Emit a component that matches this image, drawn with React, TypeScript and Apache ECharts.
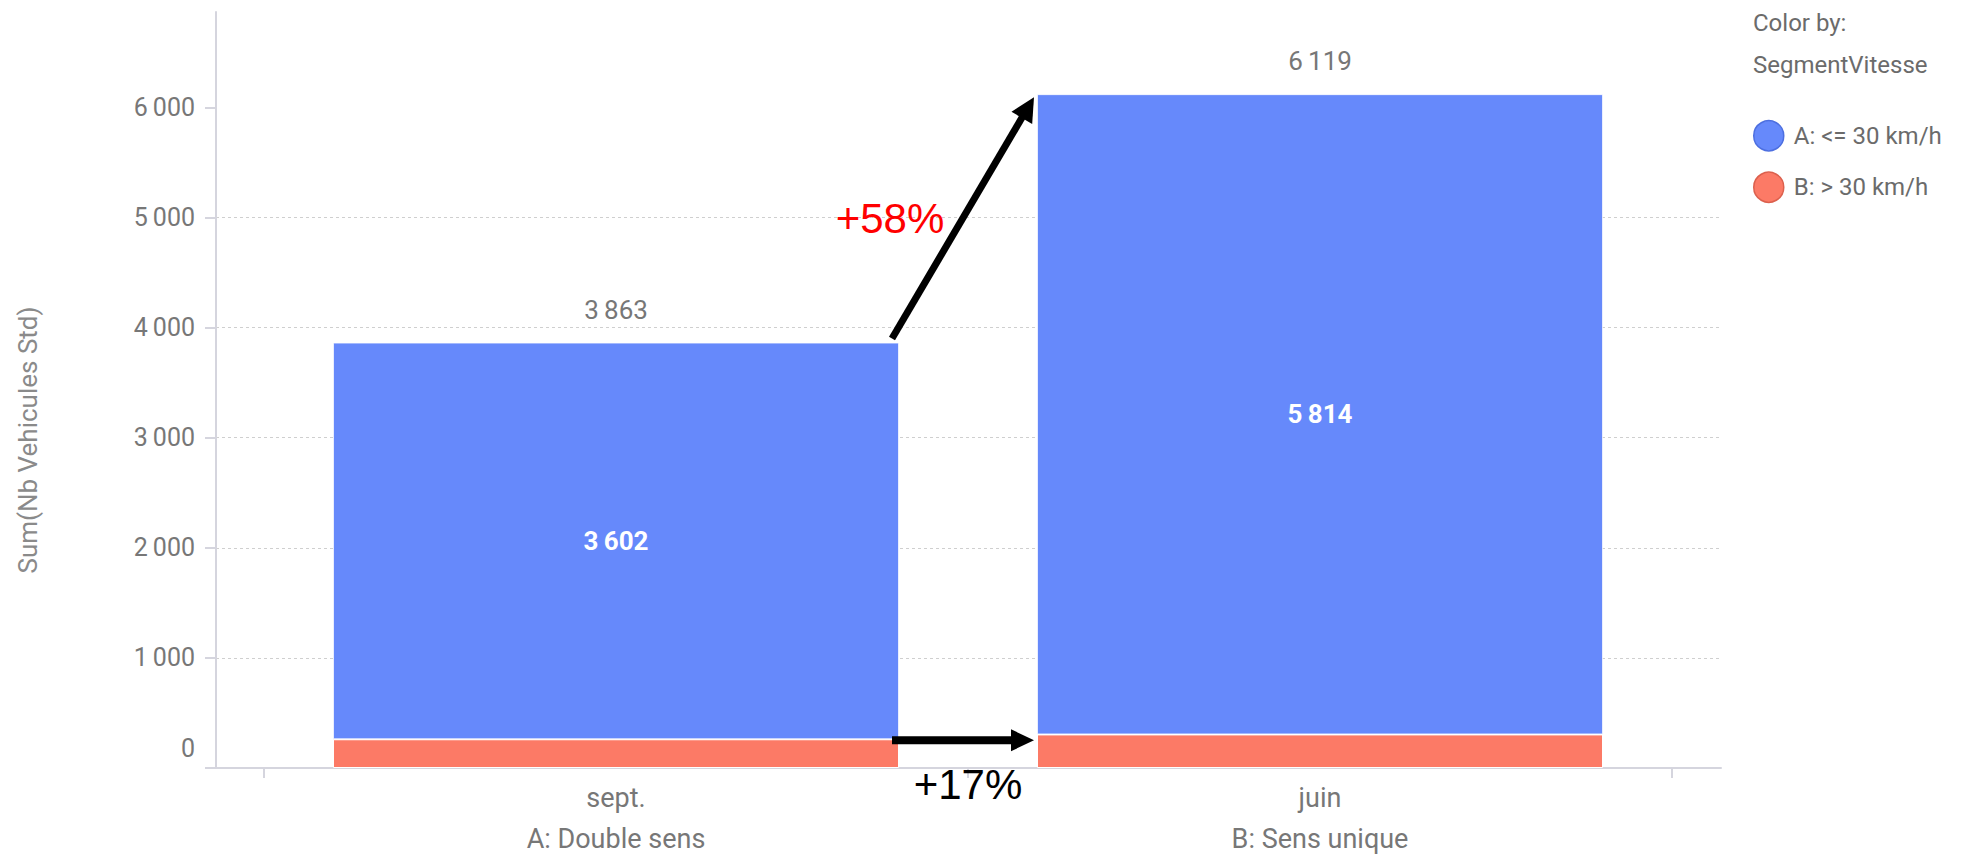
import React, { useEffect, useRef } from 'react';
import * as echarts from 'echarts';

const categories = ['sept.', 'juin'];
const groupLabels = ['A: Double sens', 'B: Sens unique'];
const seriesNames = ['A: <= 30 km/h', 'B: > 30 km/h'];
const slowValues = [3602, 5814];
const fastValues = [261, 305];
const totals = [3863, 6119];
const yTicks = [0, 1000, 2000, 3000, 4000, 5000, 6000];
const changeLabels = ['+58%', '+17%'];
const colorByTitle = ['Color by:', 'SegmentVitesse'];
const yAxisName = 'Sum(Nb Vehicules Std)';

const Y_MAX = 6865;
const BAR_W = 566;
const FONT = 'Roboto, "Noto Sans", sans-serif';
const ARIAL = '"Liberation Sans", Arial, sans-serif';
const BLUE = '#6689FB';
const RED = '#FC7A66';
const AXIS_COLOR = '#d5d5de';
const TEXT_GRAY = '#777777';

function fmt(v: number): string {
  const s = String(v);
  return s.length > 3 ? s.slice(0, s.length - 3) + '\u2009' + s.slice(-3) : s;
}

function arrow(x1: number, y1: number, x2: number, y2: number, w: number, headLen: number, headHalf: number) {
  const dx = x2 - x1;
  const dy = y2 - y1;
  const len = Math.hypot(dx, dy);
  const ux = dx / len;
  const uy = dy / len;
  const nx = -uy;
  const ny = ux;
  const bx = x2 - ux * headLen;
  const by = y2 - uy * headLen;
  return [
    {
      type: 'line',
      shape: { x1, y1, x2: bx + ux, y2: by + uy },
      style: { stroke: '#000', lineWidth: w },
      z: 100,
    },
    {
      type: 'polygon',
      shape: {
        points: [
          [x2, y2],
          [bx + nx * headHalf, by + ny * headHalf],
          [bx - nx * headHalf, by - ny * headHalf],
        ],
      },
      style: { fill: '#000' },
      z: 100,
    },
  ];
}

export default function App() {
  const ref = useRef<HTMLDivElement>(null);

  useEffect(() => {
    if (!ref.current) return;
    const chart = echarts.init(ref.current, null, { renderer: 'svg' });

    const option: any = {
      animation: false,
      backgroundColor: '#ffffff',
      grid: [
        { left: 264, right: 298, top: 12, bottom: 88 },
        { left: 216, right: 249, top: 12, bottom: 88 },
      ],
      xAxis: [
        {
          type: 'category',
          gridIndex: 0,
          data: categories,
          axisLine: { show: false },
          axisTick: { show: true, length: 10, lineStyle: { color: AXIS_COLOR, width: 2 } },
          axisLabel: {
            margin: 9,
            formatter: (v: string, i: number) => `{a|${v}}\n{b|${groupLabels[i]}}`,
            rich: {
              a: { fontSize: 27, lineHeight: 41, color: TEXT_GRAY, fontFamily: FONT },
              b: { fontSize: 27, lineHeight: 41, color: TEXT_GRAY, fontFamily: FONT },
            },
          },
          splitLine: { show: false },
        },
        {
          type: 'category',
          gridIndex: 1,
          data: [''],
          axisLine: { show: true, lineStyle: { color: AXIS_COLOR, width: 2 } },
          axisTick: { show: false },
          axisLabel: { show: false },
          splitLine: { show: false },
        },
      ],
      yAxis: [
        { type: 'value', gridIndex: 0, min: 0, max: Y_MAX, show: false, splitLine: { show: false } },
        {
          type: 'value',
          gridIndex: 1,
          min: 0,
          max: Y_MAX,
          interval: 1000,
          axisLine: { show: true, lineStyle: { color: AXIS_COLOR, width: 2 } },
          axisTick: { show: true, length: 11, customValues: yTicks, lineStyle: { color: AXIS_COLOR, width: 2 } },
          axisLabel: {
            customValues: yTicks,
            margin: 21,
            fontSize: 25,
            color: TEXT_GRAY,
            fontFamily: FONT,
            formatter: (v: number) => (v === 0 ? '{z|0}' : fmt(v)),
            rich: {
              z: { fontSize: 25, color: TEXT_GRAY, fontFamily: FONT, padding: [0, 0, 40, 0] },
            },
          },
          splitLine: {
            show: true,
            showMaxLine: false,
            showMinLine: false,
            lineStyle: { type: [3, 3], color: '#cfcfcf', width: 1 },
          },
        },
      ],
      legend: {
        orient: 'vertical',
        left: 1753,
        top: 120,
        itemWidth: 30,
        itemHeight: 30,
        itemGap: 20,
        padding: 0,
        icon: 'circle',
        selectedMode: false,
        data: [
          { name: seriesNames[0], itemStyle: { color: BLUE, borderColor: '#4d6fe0', borderWidth: 1.5 } },
          { name: seriesNames[1], itemStyle: { color: RED, borderColor: '#dc604d', borderWidth: 1.5 } },
        ],
        textStyle: { fontSize: 24, color: '#6b6b6b', fontFamily: FONT, padding: [0, 0, 0, 5] },
      },
      series: [
        {
          name: seriesNames[1],
          type: 'bar',
          stack: 't',
          xAxisIndex: 0,
          yAxisIndex: 0,
          data: fastValues,
          barWidth: BAR_W,
          itemStyle: { color: RED, borderColor: '#ffffff', borderWidth: 1 },
          label: { show: false },
        },
        {
          name: seriesNames[0],
          type: 'bar',
          stack: 't',
          xAxisIndex: 0,
          yAxisIndex: 0,
          data: slowValues,
          barWidth: BAR_W,
          itemStyle: { color: BLUE, borderColor: 'rgba(255,255,255,0.7)', borderWidth: 1 },
          label: {
            show: true,
            position: 'inside',
            color: '#ffffff',
            fontSize: 26,
            fontWeight: 'bold',
            fontFamily: FONT,
            formatter: (p: any) => fmt(p.value),
          },
        },
        {
          name: 'Total',
          type: 'bar',
          stack: 't',
          xAxisIndex: 0,
          yAxisIndex: 0,
          data: totals.map(() => 0),
          barWidth: BAR_W,
          itemStyle: { color: 'transparent' },
          label: {
            show: true,
            position: 'top',
            distance: 18,
            color: TEXT_GRAY,
            fontSize: 26,
            fontFamily: FONT,
            backgroundColor: '#ffffff',
            padding: [2, 10],
            formatter: (p: any) => fmt(totals[p.dataIndex]),
          },
        },
      ],
    };

    chart.setOption(option);

    const px = (cat: string, val: number) => chart.convertToPixel({ gridIndex: 0 } as any, [cat, val]) as number[];
    const half = BAR_W / 2;
    const [xL, yTopL] = px(categories[0], totals[0]);
    const [xR, yTopR] = px(categories[1], totals[1]);
    const yRedL = px(categories[0], fastValues[0])[1];
    const yAxis0 = px(categories[0], 0)[1];
    const gapL = xL + half;
    const gapR = xR - half;

    const a1 = { x1: gapL - 7, y1: yTopL - 4, x2: gapR - 3, y2: yTopR + 3 };
    const a2 = { x1: gapL - 7, y1: yRedL + 1, x2: gapR - 3, y2: yRedL + 1 };

    const graphic: any[] = [
      {
        type: 'text',
        x: 1753,
        y: 23,
        style: { text: colorByTitle[0], fill: '#6b6b6b', fontSize: 24, fontFamily: FONT, align: 'left', verticalAlign: 'middle' },
      },
      {
        type: 'text',
        x: 1753,
        y: 65,
        style: { text: colorByTitle[1], fill: '#6b6b6b', fontSize: 24, fontFamily: FONT, align: 'left', verticalAlign: 'middle' },
      },
      {
        type: 'text',
        x: 28,
        y: 440,
        rotation: Math.PI / 2,
        style: { text: yAxisName, fill: '#8a8a8a', fontSize: 26, fontFamily: FONT, align: 'center', verticalAlign: 'middle' },
      },
      ...arrow(a1.x1, a1.y1, a1.x2, a1.y2, 7, 24, 12),
      ...arrow(a2.x1, a2.y1, a2.x2, a2.y2, 8, 23, 11),
      {
        type: 'text',
        x: (a1.x1 + a1.x2) / 2 - 73,
        y: (yTopL + yTopR) / 2,
        z: 100,
        style: { text: changeLabels[0], fill: '#ff0000', fontSize: 42, fontFamily: ARIAL, align: 'center', verticalAlign: 'middle' },
      },
      {
        type: 'text',
        x: (gapL + gapR) / 2,
        y: yAxis0 + 16,
        z: 100,
        style: { text: changeLabels[1], fill: '#000000', fontSize: 42, fontFamily: ARIAL, align: 'center', verticalAlign: 'middle' },
      },
    ];

    chart.setOption({ graphic });

    return () => {
      chart.dispose();
    };
  }, []);

  return (
    <div
      ref={ref}
      style={{ position: 'absolute', left: 0, top: 0, width: 1970, height: 856, background: '#fff' }}
    />
  );
}
